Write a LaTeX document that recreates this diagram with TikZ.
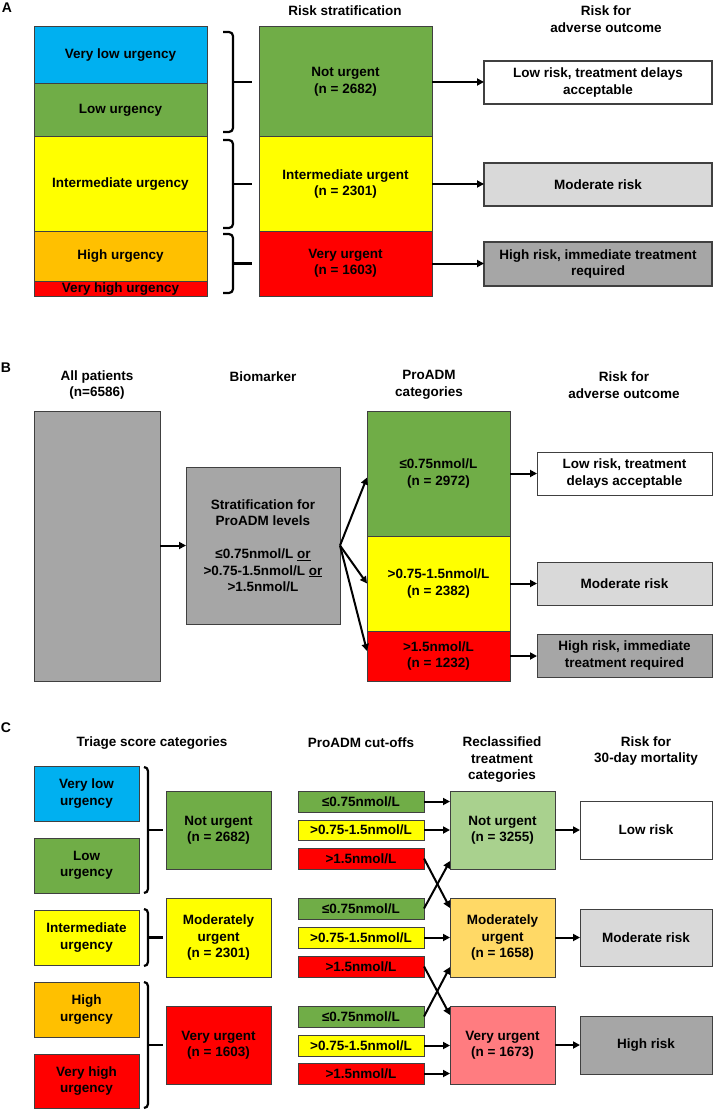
\documentclass[tikz,border=0pt]{standalone}
\usepackage{fontspec}
\setmainfont{Liberation Sans}
\usetikzlibrary{arrows.meta}
\definecolor{cblue}{HTML}{00B0F0}
\definecolor{cgreen}{HTML}{70AD47}
\definecolor{cyellow}{HTML}{FFFF00}
\definecolor{corange}{HTML}{FFC000}
\definecolor{cred}{HTML}{FF0000}
\definecolor{cgray}{HTML}{A6A6A6}
\definecolor{clgray}{HTML}{D9D9D9}
\definecolor{clgreen}{HTML}{A9D18E}
\definecolor{clorange}{HTML}{FFD966}
\definecolor{cpink}{HTML}{FF7C80}
\definecolor{cborder}{HTML}{404040}
\newcommand\mybox[7]{%
  \pgfmathsetmacro\mybw{#4-#2}\pgfmathsetmacro\mybh{#5-#3}%
  \pgfmathsetmacro\mycx{(#2+#4)/2}\pgfmathsetmacro\mycy{(#3+#5)/2}%
  \node[box,#6,minimum width=\mybw pt,minimum height=\mybh pt] (#1) at (\mycx,\mycy) {#7};}
\newcommand\mybrk[5]{%
  \pgfmathsetmacro\mymid{(#3+#4)/2}%
  \draw[brk] (#1,#3) -- (#2,#3) -- (#2,#4) -- (#1,#4);
  \draw[brk] (#2,\mymid) -- (#5,\mymid);}
\begin{document}
\begin{tikzpicture}[x=1pt,y=-1pt,
  font=\bfseries\fontsize{13.5}{16.5}\selectfont,
  box/.style={draw=cborder,line width=1pt,inner sep=0pt,outer sep=0pt,align=center},
  arr/.style={line width=2pt,-{Triangle[length=7pt,width=7pt]}},
  brk/.style={line width=2.2pt,rounded corners=4pt},
  ttl/.style={align=center,inner sep=0pt},
  plabel/.style={inner sep=0pt,font=\bfseries\fontsize{14}{16}\selectfont}]
\useasboundingbox (0,0) rectangle (713,1110);
\fill[white] (0,0) rectangle (713,1110);

% ---------------- Panel A ----------------
\node[plabel] (labA) at (7,8) {A};
\node[ttl] (tA1) at (345,11) {Risk stratification};
\node[ttl] (tA2) at (606,19) {Risk for\\adverse outcome};

\mybox{ah1}{34}{27}{207}{84}{fill=cblue}{Very low urgency}
\mybox{ah2}{34}{84}{207}{137}{fill=cgreen}{Low urgency}
\mybox{ah3}{34}{137}{207}{231}{fill=cyellow}{Intermediate urgency}
\mybox{ah4}{34}{231}{207}{281}{fill=corange}{High urgency}
\mybox{ah5}{34}{281}{207}{296}{fill=cred}{}
\node[inner sep=0pt] (ah5t) at (120.5,289) {Very high urgency};

\mybrk{223}{233}{32}{132}{252}
\mybrk{223}{233}{140}{228}{252}
\mybrk{223}{233}{234}{293}{252}

\mybox{am1}{259}{27}{432}{137}{fill=cgreen}{Not urgent\\(n = 2682)}
\mybox{am2}{259}{137}{432}{231}{fill=cyellow}{Intermediate urgent\\(n = 2301)}
\mybox{am3}{259}{231}{432}{296}{fill=cred}{Very urgent\\(n = 1603)}

\mybox{ar1}{484}{61}{712}{104}{fill=white,line width=1.3pt}{Low risk, treatment delays\\acceptable}
\mybox{ar2}{484}{163}{712}{206}{fill=clgray,line width=1.3pt}{Moderate risk}
\mybox{ar3}{484}{242}{712}{286}{fill=cgray,line width=1.3pt}{High risk, immediate treatment\\required}

\draw[arr] (am1.east) -- (am1.east -| ar1.west);
\draw[arr] (am2.east) -- (am2.east -| ar2.west);
\draw[arr] (am3.east) -- (am3.east -| ar3.west);

% ---------------- Panel B ----------------
\node[plabel] (labB) at (6,368) {B};
\node[ttl] (tB1) at (97,385) {All patients\\(n=6586)};
\node[ttl] (tB2) at (263,377) {Biomarker};
\node[ttl] (tB3) at (429,385) {ProADM\\categories};
\node[ttl] (tB4) at (624,385) {Risk for\\adverse outcome};

\mybox{ball}{34}{411}{160}{681}{fill=cgray}{}
\mybox{bstrat}{186}{467}{340}{624}{fill=cgray}{Stratification for\\ProADM levels\\[16.5pt]≤0.75nmol/L \underline{or}\\>0.75-1.5nmol/L \underline{or}\\>1.5nmol/L}

\mybox{bc1}{367}{411}{510}{536}{fill=cgreen}{≤0.75nmol/L\\(n = 2972)}
\mybox{bc2}{367}{536}{510}{631}{fill=cyellow}{>0.75-1.5nmol/L\\(n = 2382)}
\mybox{bc3}{367}{631}{510}{681}{fill=cred}{>1.5nmol/L\\(n = 1232)}

\mybox{br1}{537}{452}{712}{495}{fill=white}{Low risk, treatment\\delays acceptable}
\mybox{br2}{537}{562}{712}{605}{fill=clgray}{Moderate risk}
\mybox{br3}{537}{634}{712}{677}{fill=cgray}{High risk, immediate\\treatment required}

\draw[arr] (ball.east |- bstrat.east) -- (bstrat.west);
\draw[arr] (bstrat.east) -- ([yshift=-4pt]bc1.west);
\draw[arr] (bstrat.east) -- (bc2.west);
\draw[arr] (bstrat.east) -- ([yshift=5pt]bc3.west);
\draw[arr] (bc1.east) -- (bc1.east -| br1.west);
\draw[arr] (bc2.east) -- (bc2.east -| br2.west);
\draw[arr] (bc3.east) -- (bc3.east -| br3.west);

% ---------------- Panel C ----------------
\node[plabel] (labC) at (6,728) {C};
\node[ttl] (tC1) at (152,743) {Triage score categories};
\node[ttl] (tC2) at (361,743) {ProADM cut-offs};
\node[ttl] (tC3) at (502,760) {Reclassified\\treatment\\categories};
\node[ttl] (tC4) at (646,751) {Risk for\\30-day mortality};

\mybox{ch1}{34}{766}{139}{821}{fill=cblue}{Very low\\urgency}
\mybox{ch2}{34}{838}{139}{893}{fill=cgreen}{Low\\urgency}
\mybox{ch3}{34}{910}{139}{965}{fill=cyellow}{Intermediate\\urgency}
\mybox{ch4}{34}{982}{139}{1037}{fill=corange}{High\\urgency}
\mybox{ch5}{34}{1054}{139}{1108}{fill=cred}{Very high\\urgency}

\mybrk{144}{148}{767}{893}{163}
\mybrk{144}{148}{909}{966}{163}
\mybrk{144}{148}{982}{1108}{163}

\mybox{cm1}{166}{791}{271}{869}{fill=cgreen}{Not urgent\\(n = 2682)}
\mybox{cm2}{166}{898}{271}{977}{fill=cyellow}{Moderately\\urgent\\(n = 2301)}
\mybox{cm3}{166}{1006}{271}{1084}{fill=cred}{Very urgent\\(n = 1603)}

\mybox{c11}{298}{791}{424}{812}{fill=cgreen}{≤0.75nmol/L}
\mybox{c12}{298}{820}{424}{840}{fill=cyellow}{>0.75-1.5nmol/L}
\mybox{c13}{298}{848}{424}{869}{fill=cred}{>1.5nmol/L}
\mybox{c21}{298}{898}{424}{919}{fill=cgreen}{≤0.75nmol/L}
\mybox{c22}{298}{927}{424}{948}{fill=cyellow}{>0.75-1.5nmol/L}
\mybox{c23}{298}{956}{424}{977}{fill=cred}{>1.5nmol/L}
\mybox{c31}{298}{1006}{424}{1027}{fill=cgreen}{≤0.75nmol/L}
\mybox{c32}{298}{1035}{424}{1056}{fill=cyellow}{>0.75-1.5nmol/L}
\mybox{c33}{298}{1063}{424}{1084}{fill=cred}{>1.5nmol/L}

\mybox{cr1}{450}{791}{555}{869}{fill=clgreen}{Not urgent\\(n = 3255)}
\mybox{cr2}{450}{898}{555}{977}{fill=clorange}{Moderately\\urgent\\(n = 1658)}
\mybox{cr3}{450}{1006}{555}{1084}{fill=cpink}{Very urgent\\(n = 1673)}

\mybox{ck1}{580}{801}{712}{859}{fill=white}{Low risk}
\mybox{ck2}{580}{909}{712}{966}{fill=clgray}{Moderate risk}
\mybox{ck3}{580}{1016}{712}{1074}{fill=cgray}{High risk}

\draw[arr] (c11.east) -- (c11.east -| cr1.west);
\draw[arr] (c12.east) -- (c12.east -| cr1.west);
\draw[arr] (c13.east) -- ([yshift=-10pt]cr2.north west);
\draw[arr] (c21.east) -- ([yshift=8pt]cr1.south west);
\draw[arr] (c22.east) -- (c22.east -| cr2.west);
\draw[arr] (c23.east) -- ([yshift=-9pt]cr3.north west);
\draw[arr] (c31.east) -- ([yshift=10pt]cr2.south west);
\draw[arr] (c32.east) -- (c32.east -| cr3.west);
\draw[arr] (c33.east) -- (c33.east -| cr3.west);

\draw[arr] (cr1.east) -- (cr1.east -| ck1.west);
\draw[arr] (cr2.east) -- (cr2.east -| ck2.west);
\draw[arr] (cr3.east) -- (cr3.east -| ck3.west);
\end{tikzpicture}
\end{document}
